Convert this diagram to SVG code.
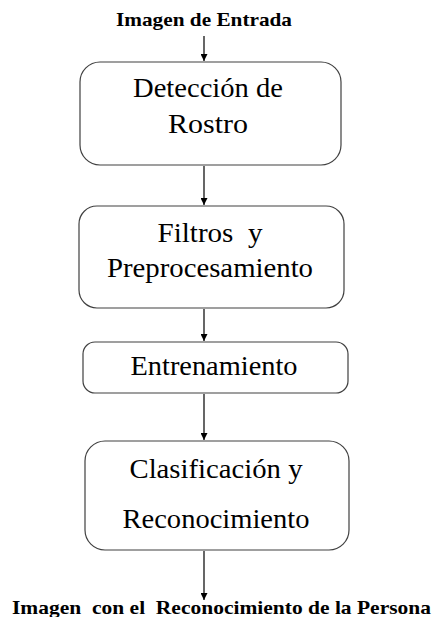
<svg xmlns="http://www.w3.org/2000/svg" width="433" height="617" viewBox="0 0 433 617">
<defs>
<style>
.box{fill:#fff;stroke:#404040;stroke-width:1.2}
.lbl{font-family:"Liberation Serif","Times New Roman",serif;font-size:27px;fill:#000;text-anchor:middle;white-space:pre}
.io{font-family:"Liberation Serif","Times New Roman",serif;font-size:19px;font-weight:bold;fill:#000;white-space:pre}
.edge{stroke:#000;stroke-width:1.2;fill:none;marker-end:url(#ah)}
</style>
<marker id="ah" viewBox="0 0 10 10" refX="10" refY="5" markerWidth="7" markerHeight="7" markerUnits="userSpaceOnUse" orient="auto">
<path d="M0,0 L10,5 L0,10 z" fill="#000"/>
</marker>
</defs>
<rect width="433" height="617" fill="#fff"/>
<text class="io" x="116" y="26" textLength="176" lengthAdjust="spacingAndGlyphs">Imagen de Entrada</text>
<g id="n1">
<rect class="box" x="80" y="62" width="261" height="103" rx="20"/>
<text class="lbl" x="208" y="97" textLength="150" lengthAdjust="spacingAndGlyphs">Detección de</text>
<text class="lbl" x="208" y="133" textLength="80" lengthAdjust="spacingAndGlyphs">Rostro</text>
</g>
<g id="n2">
<rect class="box" x="79" y="206" width="265" height="102" rx="18"/>
<text class="lbl" x="210" y="242" textLength="105" lengthAdjust="spacingAndGlyphs" xml:space="preserve">Filtros  y</text>
<text class="lbl" x="210" y="277" textLength="206" lengthAdjust="spacingAndGlyphs">Preprocesamiento</text>
</g>
<g id="n3">
<rect class="box" x="83" y="342" width="265" height="51" rx="12"/>
<text class="lbl" x="214" y="375" textLength="167" lengthAdjust="spacingAndGlyphs">Entrenamiento</text>
</g>
<g id="n4">
<rect class="box" x="85" y="441" width="264" height="109" rx="20"/>
<text class="lbl" x="216" y="478" textLength="173" lengthAdjust="spacingAndGlyphs">Clasificación y</text>
<text class="lbl" x="216" y="528" textLength="187" lengthAdjust="spacingAndGlyphs">Reconocimiento</text>
</g>
<text class="io" x="12" y="614" textLength="419" lengthAdjust="spacingAndGlyphs" xml:space="preserve">Imagen  con el  Reconocimiento de la Persona</text>
<g id="edges">
<line class="edge" x1="204" y1="36" x2="204" y2="61"/>
<line class="edge" x1="204" y1="166" x2="204" y2="205"/>
<line class="edge" x1="204" y1="309" x2="204" y2="341"/>
<line class="edge" x1="204" y1="394" x2="204" y2="440"/>
<line class="edge" x1="204" y1="551" x2="204" y2="600"/>
</g>
</svg>
